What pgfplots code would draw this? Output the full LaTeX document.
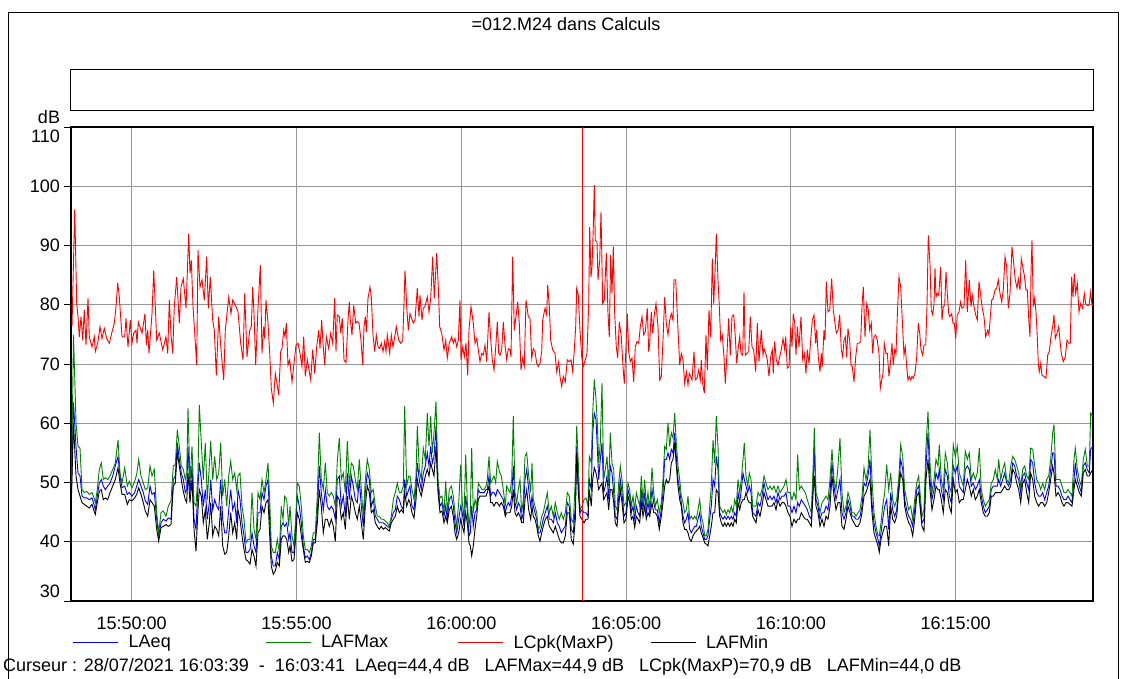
\documentclass[border=0pt]{standalone}
\usepackage{pgfplots}
\pgfplotsset{compat=1.18}
\usepackage{pgfplotstable}
\usepackage{fontspec}
\setmainfont{Liberation Sans}
\definecolor{gridgray}{RGB}{150,150,150}
\definecolor{lgreen}{RGB}{0,128,0}
\pgfplotstableread{
p lc
72.0 76.3
74.7 96.1
76.7 80.2
78.0 78.0
79.3 74.6
81.0 78.0
82.7 74.0
84.3 79.1
86.0 73.2
88.0 81.1
89.3 74.6
92.0 72.9
94.3 74.6
95.3 72.1
97.7 73.5
100.0 76.3
102.0 74.3
104.3 76.0
106.7 74.3
109.3 73.5
112.0 75.4
114.3 76.9
116.0 79.7
117.7 83.7
119.3 81.3
122.0 74.6
124.7 74.6
126.0 77.7
128.0 72.9
130.3 77.4
132.0 73.5
133.7 75.2
136.0 75.7
137.0 73.5
138.3 77.1
142.0 75.2
145.0 78.5
146.3 73.2
147.7 75.7
149.0 71.8
152.0 78.5
153.7 85.8
155.3 79.7
156.7 74.0
159.3 75.2
162.7 72.4
166.0 74.6
167.7 71.8
169.3 80.8
171.0 74.9
172.7 71.8
174.3 79.7
176.7 84.7
179.3 76.9
181.0 83.0
183.3 84.4
186.0 79.4
188.7 92.0
190.0 85.3
191.3 87.5
193.0 79.7
196.7 69.8
198.0 89.2
200.0 83.0
202.0 84.2
204.3 80.8
206.7 88.1
208.3 79.4
210.3 84.7
212.7 77.4
214.3 75.7
216.3 68.1
218.7 78.0
221.0 72.4
223.7 67.3
225.3 75.7
228.7 81.3
231.0 78.5
232.7 80.8
236.0 79.7
238.0 78.8
240.7 73.5
243.0 70.7
244.7 81.9
247.0 71.2
249.7 75.7
251.3 76.3
252.7 83.0
254.0 78.5
255.7 69.8
258.0 79.4
260.3 86.7
262.0 71.8
263.7 76.3
264.7 74.3
266.0 80.8
268.0 76.9
269.7 71.8
271.3 65.9
273.3 63.4
275.3 68.4
277.0 66.7
278.7 64.8
280.7 72.1
282.0 72.6
283.7 75.7
285.0 74.6
286.3 76.9
288.0 69.8
289.7 70.7
292.0 67.0
294.0 70.1
296.0 73.2
298.0 73.5
300.0 71.8
302.0 69.6
303.7 74.6
305.3 67.9
307.3 70.7
309.0 69.0
310.7 67.3
312.7 72.4
314.7 68.4
316.7 72.9
318.7 75.7
320.0 72.6
321.7 77.4
323.0 73.5
324.7 69.8
326.3 74.6
328.7 72.6
330.7 75.2
332.7 73.5
334.7 81.1
336.0 72.1
337.3 78.3
339.3 78.0
340.7 75.2
342.3 77.7
344.0 70.7
346.0 70.2
348.0 77.4
349.3 80.5
350.3 77.4
352.0 74.9
353.7 79.9
355.7 76.9
357.3 77.2
359.0 76.9
361.0 74.0
362.7 69.8
364.0 76.3
365.3 78.0
366.3 75.4
368.0 81.1
370.0 83.0
371.3 81.3
373.0 74.9
374.7 72.1
376.3 74.9
378.0 72.9
379.7 72.6
381.3 73.5
383.0 72.1
384.7 73.8
386.0 72.1
387.3 74.9
389.7 71.8
391.3 74.9
393.0 72.9
394.7 74.6
396.3 76.3
398.7 74.0
400.7 73.5
402.7 74.0
403.7 78.8
405.0 85.8
406.7 79.7
408.3 75.7
409.7 78.0
410.0 78.5
413.3 76.9
415.0 77.4
417.3 82.8
419.0 78.0
420.0 81.6
422.0 77.4
423.3 79.4
425.0 79.7
427.3 81.3
429.0 78.8
430.7 81.1
432.7 88.1
434.3 81.1
436.7 88.7
438.3 83.0
439.7 76.3
441.7 75.2
444.0 72.4
445.7 74.0
447.3 71.0
449.3 73.5
451.7 74.6
453.3 73.5
455.0 74.3
456.7 72.9
458.3 74.0
460.0 80.8
461.0 70.7
462.7 72.9
464.3 71.2
466.0 73.5
467.7 68.1
469.0 75.7
471.0 79.7
473.3 76.9
475.0 73.5
476.7 74.3
478.3 72.4
480.0 70.4
481.7 71.8
483.3 71.5
485.0 73.2
486.7 70.4
489.0 78.8
491.0 73.5
492.3 70.7
494.0 69.0
496.0 73.5
497.3 77.1
498.7 71.8
500.0 71.5
501.7 72.4
503.3 77.1
505.0 73.2
506.7 70.7
508.3 72.6
510.0 72.4
511.0 71.2
512.7 88.1
514.3 75.7
516.0 78.0
517.7 80.5
519.3 76.9
521.0 69.0
522.7 71.0
524.3 69.6
526.0 80.8
528.3 78.0
530.0 77.7
531.7 71.0
533.3 72.6
535.0 72.1
536.7 70.1
538.3 69.6
540.0 70.1
541.7 72.1
542.7 77.4
545.0 79.4
546.7 78.3
547.7 83.3
549.3 79.7
550.7 74.0
552.7 72.4
555.0 71.8
556.7 68.7
558.7 70.4
560.0 67.9
561.7 66.2
563.3 67.9
565.3 67.0
567.3 70.7
569.3 70.4
571.0 70.7
572.7 68.7
574.3 72.4
575.7 76.3
576.7 82.8
578.3 81.6
580.0 75.7
581.7 71.2
583.3 69.6
585.3 70.7
587.0 71.8
588.7 80.2
589.7 93.1
591.0 84.7
592.0 86.4
593.3 93.1
594.3 100.2
595.3 90.9
597.0 90.6
598.0 84.2
599.7 87.5
601.0 95.7
602.7 80.2
604.3 80.8
606.3 88.7
608.0 78.5
609.3 74.6
610.7 88.4
612.0 81.9
613.3 89.8
614.7 78.5
616.3 72.9
617.7 71.0
619.3 77.1
621.3 74.6
623.0 69.6
624.3 66.7
626.0 72.9
627.3 78.5
628.7 72.1
630.3 70.4
632.0 71.0
633.7 67.0
635.3 72.9
637.0 73.8
638.7 73.5
640.3 76.3
642.0 78.0
643.7 74.9
645.3 75.4
647.3 79.4
648.7 72.1
649.7 73.5
651.3 78.8
652.7 75.2
654.3 78.3
656.0 80.2
658.0 76.3
659.7 67.3
661.3 67.9
663.0 74.0
664.7 81.3
666.3 76.9
668.0 74.9
669.7 77.4
671.3 78.5
673.0 77.4
674.0 84.2
675.7 84.2
677.7 76.9
679.7 69.8
681.3 71.8
683.0 70.7
684.7 66.7
686.3 68.7
688.0 66.5
689.3 68.4
690.7 67.9
692.0 67.3
694.0 72.1
695.3 67.3
697.0 67.6
698.7 69.0
700.3 67.3
701.3 70.7
702.7 66.7
704.3 65.1
706.0 74.9
707.3 69.0
709.0 79.1
710.7 74.6
712.3 87.8
713.7 80.2
715.0 85.3
716.3 92.0
718.0 84.2
719.3 79.7
720.7 74.0
722.3 74.9
724.0 71.2
725.3 66.7
727.0 71.8
728.7 77.7
730.3 71.5
732.0 78.0
733.7 78.3
735.3 74.6
736.7 70.1
738.0 72.4
739.7 74.6
741.0 71.8
742.7 71.5
744.0 82.2
745.3 71.5
747.0 71.8
748.7 72.1
750.3 78.0
752.0 72.9
753.7 72.4
755.7 68.7
757.3 76.9
759.0 70.4
761.3 75.7
763.0 71.5
764.0 72.6
765.7 71.8
767.3 70.7
769.0 67.9
770.7 71.2
772.3 72.4
773.3 68.4
774.7 73.8
776.3 70.7
778.0 69.8
779.7 71.2
781.3 72.4
783.0 74.3
784.7 72.4
785.7 74.6
787.3 69.3
789.0 69.6
790.7 76.3
792.0 72.9
793.3 78.5
794.7 76.9
796.0 71.5
797.3 76.3
799.0 72.9
801.0 78.0
802.7 70.7
804.3 71.8
806.0 68.4
807.3 72.4
809.0 70.1
810.7 74.0
812.3 77.4
814.0 78.3
815.7 73.5
816.7 75.7
818.3 71.2
820.0 68.7
821.3 71.8
822.3 69.6
824.0 75.7
825.0 74.0
826.3 83.9
828.0 78.8
829.7 79.1
831.7 84.4
833.3 79.1
835.0 76.9
836.3 75.2
838.0 75.7
839.7 78.3
841.3 72.4
842.7 71.2
844.0 74.0
845.3 74.6
846.7 71.2
848.0 76.0
849.7 74.0
851.0 69.8
852.3 69.6
854.0 67.0
855.7 71.2
857.3 73.5
859.0 73.5
860.7 73.8
862.0 79.7
863.3 83.0
865.0 74.6
866.7 80.2
868.3 79.1
869.7 75.7
871.3 76.9
872.7 71.8
874.0 74.6
875.7 74.9
877.3 74.0
879.0 71.8
880.3 65.9
881.7 67.3
883.0 68.4
884.3 73.5
886.0 71.8
887.3 71.8
889.0 67.9
890.7 70.7
892.0 73.5
893.3 69.8
894.7 72.4
896.0 71.8
897.3 78.0
899.0 84.7
900.7 83.0
902.3 77.4
904.0 71.5
905.3 72.9
906.7 69.6
908.0 67.3
909.3 67.9
910.7 67.3
912.0 67.9
913.3 67.6
915.0 68.4
916.7 71.2
918.3 76.9
919.7 75.2
921.0 72.4
922.7 71.5
924.0 73.2
925.7 73.2
927.0 79.7
928.3 91.7
930.0 86.9
931.3 79.1
932.7 78.3
934.0 80.2
935.0 86.2
936.0 81.3
937.3 81.9
938.7 81.6
940.7 86.4
942.0 77.4
943.3 79.7
944.7 79.9
946.0 85.6
947.3 81.9
948.7 78.5
950.0 78.0
951.7 78.5
953.0 76.9
954.3 76.9
955.7 74.3
957.3 78.3
959.0 78.8
960.7 80.5
962.0 79.4
964.0 79.7
965.7 87.5
967.3 78.8
969.3 84.2
971.0 79.7
972.3 81.6
974.0 79.7
975.7 78.3
977.3 77.4
979.0 83.9
980.7 81.6
982.3 79.4
984.0 78.0
985.7 74.6
987.7 75.7
989.0 74.9
990.3 78.0
991.7 80.8
993.3 81.1
995.0 82.5
996.7 82.8
998.3 84.2
1000.0 81.9
1001.7 80.5
1003.3 82.5
1005.0 88.1
1006.7 86.4
1008.3 79.4
1010.0 81.9
1012.0 89.8
1013.7 87.0
1015.3 84.2
1017.0 82.8
1018.3 84.4
1020.0 82.5
1021.3 87.8
1022.7 86.4
1024.3 85.0
1026.0 82.5
1027.3 82.5
1028.7 77.7
1030.0 74.6
1031.0 85.3
1032.0 90.9
1033.3 79.7
1034.7 81.1
1036.0 78.8
1037.3 74.6
1038.3 70.1
1039.3 68.7
1040.7 70.1
1042.0 68.1
1044.0 67.9
1046.0 67.6
1047.7 71.5
1049.3 72.1
1051.0 74.6
1052.7 76.3
1054.0 78.3
1055.3 74.3
1057.0 75.2
1058.7 76.3
1060.0 74.0
1061.3 71.8
1063.3 70.4
1065.3 71.2
1067.0 74.0
1068.7 73.5
1070.3 73.5
1071.7 84.7
1073.0 81.3
1074.3 85.3
1075.7 81.9
1077.3 83.6
1079.0 78.8
1080.7 80.2
1082.7 79.4
1084.3 81.9
1085.7 80.2
1087.3 79.9
1089.0 79.9
1090.7 82.2
1092.0 79.9
1093.3 80.2
}\redtab
\pgfplotstableread{
p lmax leq lmin
71.5 50.0 49.0 48.0
73.5 74.9 63.5 60.0
76.0 60.1 56.1 51.1
78.0 56.1 51.6 48.8
80.0 55.8 51.1 47.7
82.0 48.8 47.7 46.6
84.3 48.3 47.4 46.3
86.7 48.5 47.4 46.0
89.3 48.0 47.1 45.7
92.0 48.3 47.4 46.3
94.0 47.4 46.3 45.2
95.3 46.6 45.4 44.6
97.3 48.8 47.7 46.6
99.3 52.2 49.9 48.5
101.3 53.3 50.5 48.8
103.3 50.5 49.4 47.1
105.3 50.8 48.8 47.4
107.7 50.5 49.4 47.1
110.0 51.1 49.9 48.3
112.7 52.2 51.1 49.4
115.3 53.3 52.8 50.5
118.0 57.2 54.4 52.5
120.0 51.6 51.1 49.9
122.0 49.9 49.1 48.0
124.7 52.5 49.4 48.0
127.3 49.4 48.0 46.3
129.3 50.2 48.3 47.1
132.0 49.1 47.7 46.9
134.7 50.2 48.3 47.4
136.7 51.4 49.4 48.0
138.7 53.9 50.5 49.1
141.0 51.1 49.4 48.0
143.3 49.9 48.3 46.6
145.3 48.8 46.9 45.2
147.7 49.1 46.3 44.3
150.0 52.8 49.4 47.1
152.0 51.1 48.0 46.6
154.3 52.2 48.3 46.0
156.7 44.9 43.8 42.1
158.7 41.5 41.0 40.1
161.0 44.9 43.2 42.4
163.3 45.2 43.8 42.6
166.0 44.3 43.5 42.9
168.3 46.0 44.0 42.6
171.0 46.9 43.8 42.9
173.3 52.8 50.5 49.4
175.3 53.0 51.1 49.9
177.3 58.9 56.7 55.0
179.3 56.1 53.9 52.8
181.3 52.8 51.6 50.5
183.3 52.2 50.5 48.5
185.3 50.5 48.3 47.1
186.7 51.6 48.8 46.6
188.0 62.6 56.1 51.6
190.0 49.9 48.3 46.6
192.0 56.1 52.8 50.5
194.0 46.6 43.8 42.1
196.0 46.0 42.1 38.4
198.0 51.6 49.4 45.4
199.3 63.1 53.3 48.8
201.3 56.7 50.5 47.7
203.3 50.5 46.0 43.2
205.3 56.7 48.8 45.4
207.3 47.1 43.8 40.4
209.3 52.8 46.6 43.2
210.7 57.0 50.5 46.6
212.7 50.5 45.4 41.0
214.7 54.4 47.1 42.6
216.7 50.5 46.0 42.1
218.7 51.6 45.4 41.0
220.7 56.7 50.5 46.0
222.7 47.7 43.8 39.3
224.7 50.5 41.5 37.9
226.7 46.0 41.5 38.2
228.7 51.1 45.4 41.0
230.7 53.6 48.8 44.9
232.7 50.5 45.4 41.5
234.7 51.6 46.6 43.2
236.7 48.8 43.2 40.4
238.0 51.1 48.8 45.4
240.0 51.6 47.1 43.8
242.0 46.0 43.2 41.0
244.0 43.8 41.0 38.7
246.0 39.8 38.2 37.0
248.0 40.4 38.2 36.7
250.0 40.4 38.7 36.2
252.0 48.3 41.5 38.7
254.0 42.1 39.3 37.6
256.0 40.4 38.2 35.9
258.0 48.3 44.9 41.5
260.0 47.1 44.9 42.1
262.0 50.5 48.3 46.0
264.0 48.3 47.1 44.9
266.0 50.5 49.4 46.6
268.0 53.3 50.5 47.1
269.7 47.1 43.8 41.0
271.3 39.3 37.6 35.9
273.3 38.2 35.9 34.5
275.3 38.2 35.9 35.1
277.3 40.4 38.2 36.5
279.3 38.2 37.0 35.9
281.3 46.0 42.6 40.4
283.0 43.8 43.2 41.0
284.7 47.7 42.6 41.0
286.7 47.1 43.2 40.4
288.7 42.6 40.4 38.2
290.0 46.0 41.5 39.3
292.0 41.0 38.2 36.7
294.0 39.3 38.2 37.0
296.0 44.9 43.8 41.5
297.3 49.9 47.7 44.9
299.3 49.4 46.0 43.8
301.3 46.0 43.2 41.0
303.3 41.0 39.3 38.7
305.3 38.7 37.3 36.5
307.3 38.7 37.6 36.7
309.3 38.2 37.0 36.5
311.3 39.3 38.2 37.6
313.3 41.5 40.4 39.8
315.3 41.5 40.4 39.8
317.3 47.7 44.9 43.2
319.3 58.4 52.8 48.8
321.3 50.5 48.3 46.0
323.3 48.8 45.4 41.5
325.3 53.3 48.8 43.8
327.3 48.3 46.0 43.8
329.3 47.7 45.4 42.6
331.3 48.3 46.0 43.8
333.3 47.7 45.4 42.6
335.3 46.0 43.8 40.1
337.3 53.6 50.5 47.7
339.3 57.5 51.1 47.1
341.3 50.5 46.0 43.8
343.3 51.6 47.7 44.9
345.3 48.3 44.3 42.1
347.3 57.0 51.6 47.7
349.3 49.4 47.1 43.8
351.3 53.3 51.1 47.7
353.3 52.8 49.4 46.6
355.3 50.5 47.1 44.9
357.3 48.8 46.6 43.8
359.3 53.9 50.5 46.0
361.3 48.8 46.0 43.2
363.3 44.3 42.6 40.4
365.3 50.5 48.3 46.0
367.3 53.9 51.6 49.4
369.3 52.2 50.5 48.3
371.3 48.3 46.0 44.9
373.3 48.8 47.1 45.4
375.3 46.0 44.3 43.2
377.3 44.3 43.8 42.6
379.3 44.3 43.2 42.1
381.3 43.8 43.2 42.6
383.3 43.8 43.2 42.1
385.3 43.5 42.9 42.4
387.3 43.2 42.6 42.1
389.3 42.6 42.4 41.8
391.3 44.3 43.8 43.2
393.3 47.1 44.9 43.8
395.3 48.3 45.4 44.3
397.3 49.9 47.7 46.0
399.3 48.3 47.1 44.9
401.3 48.3 46.0 45.4
403.3 49.4 45.4 44.9
404.7 62.9 50.5 48.3
406.7 49.4 47.7 46.0
408.7 51.1 48.8 47.1
410.0 51.1 49.4 46.6
412.0 48.8 46.0 44.9
414.0 47.1 45.4 44.0
416.0 51.1 49.4 47.1
417.3 59.5 53.3 50.5
419.3 52.2 50.5 48.8
421.3 50.5 48.8 47.7
423.3 55.8 51.6 49.4
425.3 53.9 52.8 51.1
427.3 61.7 55.0 52.2
429.0 56.1 52.8 51.1
430.7 61.2 56.1 53.3
432.3 55.0 53.3 52.2
434.0 58.4 54.4 51.1
436.0 63.7 59.5 56.1
438.0 50.5 49.4 48.3
440.0 47.4 46.0 44.9
442.0 47.7 46.6 45.2
444.0 44.9 44.3 43.2
445.7 50.2 46.0 44.3
447.3 44.9 43.8 43.2
449.3 48.8 47.1 45.4
451.3 49.4 47.7 46.0
453.3 47.7 46.0 44.3
455.0 44.9 43.2 41.5
456.7 42.6 41.5 40.4
458.7 46.6 43.8 41.5
460.7 53.0 46.0 43.8
462.3 46.6 44.9 42.6
464.0 43.8 42.6 41.5
465.7 54.7 47.7 44.9
467.3 46.6 45.4 43.2
469.0 42.6 41.0 39.8
470.3 44.9 41.5 39.3
471.7 55.8 46.0 37.6
473.3 44.9 42.6 39.3
475.0 47.1 44.9 42.1
476.7 46.0 45.4 44.3
478.3 49.9 48.8 47.1
480.0 49.4 48.3 47.7
482.0 48.8 48.3 47.7
484.0 48.8 48.3 47.7
486.0 49.4 48.8 47.7
487.3 50.5 48.8 48.3
489.0 54.4 51.1 49.4
490.7 49.9 47.7 46.6
492.3 50.5 48.3 46.6
494.0 51.1 48.3 46.0
495.7 49.9 47.7 46.6
497.3 53.6 48.8 46.6
499.3 51.9 48.3 46.0
501.3 51.1 47.7 46.6
503.3 48.8 47.1 46.0
505.3 46.0 44.9 44.3
506.7 49.4 46.0 44.9
508.3 48.8 46.6 44.9
510.0 48.3 46.0 44.9
511.7 50.5 47.7 46.0
513.3 61.2 52.8 48.8
515.0 48.3 46.6 44.9
516.7 46.6 45.4 44.3
518.3 48.8 46.6 44.9
520.0 50.5 46.0 44.3
521.7 44.9 43.8 43.2
523.3 47.1 44.9 43.2
525.0 54.4 50.5 47.1
526.7 55.0 52.2 48.8
528.7 51.1 48.8 45.4
530.7 48.3 46.0 43.8
532.0 53.3 47.7 46.0
533.3 47.1 46.0 44.3
535.0 46.0 44.9 43.8
536.7 44.9 43.8 42.6
538.3 42.1 41.5 41.0
540.0 42.6 41.5 40.1
541.7 44.3 42.6 41.5
543.3 44.9 43.8 42.6
545.3 46.6 44.9 43.8
547.3 48.3 46.0 44.3
549.3 44.9 43.8 42.6
551.3 46.0 43.8 42.1
553.3 44.3 43.2 41.5
555.3 46.6 44.9 42.6
557.3 44.9 43.2 41.5
559.3 43.8 42.6 40.4
561.3 44.9 41.5 39.8
563.3 43.8 42.1 39.8
565.3 44.9 42.6 41.0
567.3 48.3 46.6 44.9
569.3 47.7 46.0 44.9
571.3 43.8 42.1 40.4
573.3 43.2 41.5 39.6
575.3 50.5 46.0 43.8
576.7 59.5 56.1 55.0
578.3 53.3 49.9 48.3
580.0 45.4 44.9 44.3
582.0 46.0 45.4 43.8
584.0 47.1 44.9 43.2
586.0 47.4 44.9 43.8
588.0 46.0 44.3 43.8
589.3 54.4 50.5 48.8
591.3 53.3 48.8 46.0
592.7 61.7 58.4 50.5
594.3 67.4 61.7 52.5
596.0 64.0 60.6 51.6
597.3 60.1 56.1 50.5
598.7 53.3 50.5 48.8
600.3 56.7 53.9 49.4
602.0 66.8 56.7 49.9
603.7 50.5 48.3 47.1
605.3 52.2 49.4 47.7
607.0 54.4 51.1 48.3
608.7 49.4 47.1 45.4
610.3 58.4 52.8 48.8
612.0 53.3 51.6 48.8
613.7 52.2 48.3 46.6
615.3 46.0 44.3 43.2
617.0 45.4 43.8 42.6
618.7 49.9 47.7 46.0
620.3 52.8 50.5 48.8
622.0 50.5 48.3 46.6
624.0 46.0 44.3 43.2
626.0 46.6 44.9 43.8
628.0 49.9 48.8 47.7
629.7 48.8 47.7 46.6
631.3 46.0 44.9 43.8
633.0 47.7 46.0 44.3
634.7 45.4 43.8 42.4
636.3 48.3 46.0 44.3
638.0 47.1 44.9 43.8
639.7 46.0 44.3 43.2
641.3 51.1 48.8 46.6
643.0 46.6 45.4 44.3
644.7 50.5 48.3 46.0
646.3 46.0 44.9 43.8
648.0 48.3 46.6 44.9
649.7 45.4 44.9 44.3
652.0 52.5 48.8 46.6
653.7 48.3 46.6 44.9
655.3 46.0 45.4 44.9
657.3 47.1 45.4 44.3
659.3 44.9 43.2 42.1
661.3 46.6 45.4 44.3
663.0 50.5 48.3 46.6
664.7 56.1 53.9 49.4
666.3 55.6 53.9 50.5
668.0 60.1 55.0 49.9
669.7 56.1 53.9 50.5
671.3 58.4 55.6 53.3
673.0 57.5 55.0 53.9
674.7 61.7 58.4 56.7
676.3 56.7 54.4 52.8
678.0 52.8 50.5 49.4
679.7 50.5 48.8 47.1
681.3 47.7 46.6 46.0
683.0 46.6 44.3 43.2
684.7 44.9 43.2 42.1
686.3 45.4 43.8 42.1
688.0 47.7 44.9 41.5
689.7 43.8 42.1 40.4
691.3 44.3 41.5 40.1
693.0 43.8 42.1 41.0
694.7 44.3 42.6 41.5
696.3 43.8 42.6 41.8
698.0 45.4 43.8 42.1
699.7 47.1 44.9 42.6
701.3 44.3 42.6 41.5
703.0 43.2 41.5 40.7
704.7 41.0 40.4 39.8
706.3 41.0 40.4 39.6
708.0 42.1 41.0 39.3
709.7 46.0 43.8 41.0
711.3 49.4 46.0 42.6
713.0 57.2 50.5 44.9
714.7 53.3 49.4 44.9
716.3 61.2 54.4 48.8
718.0 56.1 52.2 48.3
719.7 46.0 44.9 44.3
721.3 45.4 44.3 43.2
723.0 44.9 43.8 42.6
724.7 45.4 44.3 43.2
726.3 44.6 43.8 42.6
728.0 45.4 44.3 43.2
729.7 44.9 43.8 42.6
731.3 46.0 44.3 43.2
733.0 44.9 43.8 42.6
734.7 47.1 44.9 43.8
736.3 46.0 44.3 43.2
738.0 50.5 48.3 46.6
739.7 48.3 46.6 45.4
741.3 50.5 48.8 46.6
743.0 53.9 51.6 47.1
744.3 56.7 50.5 47.1
746.0 51.1 49.4 48.3
747.7 49.4 48.3 47.1
749.3 51.6 49.4 46.6
751.0 50.5 48.3 46.6
752.7 46.0 44.9 44.3
756.0 46.0 44.3 43.2
758.0 48.3 46.6 45.4
760.0 47.7 46.0 44.3
762.0 48.8 47.7 46.0
764.0 51.1 49.9 48.3
766.0 49.9 48.3 47.1
768.0 48.8 47.1 46.0
770.0 49.4 47.7 46.0
772.0 48.8 47.1 46.0
774.0 49.4 47.7 46.6
776.0 48.3 46.6 45.4
778.0 49.4 48.3 47.1
780.0 48.3 47.1 46.0
782.0 48.8 47.7 46.6
784.0 49.4 47.7 46.6
786.0 50.5 48.3 46.0
788.0 48.3 46.0 44.9
790.0 48.3 46.0 44.3
792.0 47.1 44.9 42.6
794.0 48.3 46.0 43.8
796.0 47.1 44.9 43.2
797.7 54.7 46.6 43.8
799.3 48.8 46.0 43.8
801.3 49.4 47.1 44.9
803.3 48.8 46.6 44.3
805.3 48.3 46.0 43.8
807.3 47.1 45.4 43.8
809.3 46.0 44.3 43.2
811.3 44.9 43.8 42.6
813.3 53.3 50.5 48.8
814.3 59.2 56.1 51.1
816.0 48.3 47.1 46.0
818.0 47.1 46.0 44.9
820.0 44.9 43.8 42.6
822.0 46.6 44.9 43.8
824.0 47.1 44.9 42.6
826.0 47.7 46.0 44.3
828.0 47.1 45.4 43.8
830.0 50.5 48.3 46.0
832.0 55.6 53.3 51.1
834.0 50.5 49.4 47.7
836.0 48.8 47.1 45.4
838.0 52.8 48.8 46.6
840.0 57.5 50.5 46.6
842.0 48.3 44.9 42.6
844.0 44.9 43.8 42.1
846.0 46.0 44.9 43.8
848.0 48.3 47.1 46.0
850.0 47.1 46.0 44.9
852.0 44.9 44.3 43.8
854.0 44.9 44.3 43.2
856.0 44.3 43.8 42.6
858.0 44.9 43.8 42.6
860.0 45.4 44.3 43.2
862.0 47.7 46.0 44.9
864.0 52.5 49.9 47.7
866.0 50.5 49.4 48.3
868.0 52.2 51.1 49.4
870.0 58.9 53.9 50.5
872.0 50.5 46.6 44.9
874.0 44.9 43.2 41.5
876.0 42.6 41.5 40.4
878.0 41.0 40.4 39.3
879.3 41.0 39.3 38.2
881.0 43.2 41.5 40.4
882.7 46.0 43.8 41.5
884.7 48.3 46.0 42.6
886.7 53.0 47.1 42.6
888.7 48.8 42.1 39.3
890.7 51.6 48.3 46.0
892.7 47.1 45.4 43.8
894.7 46.0 44.3 43.2
896.7 47.1 45.4 44.3
898.7 50.5 49.4 48.3
900.7 56.4 53.9 51.6
902.7 54.4 52.2 50.5
904.7 48.8 47.1 46.0
906.7 47.1 45.4 44.3
908.7 45.4 44.3 43.2
910.7 46.0 43.8 42.6
912.7 43.8 42.6 41.0
914.7 47.1 45.4 43.8
916.7 49.9 48.8 47.7
918.7 51.1 49.4 48.3
922.0 44.3 43.2 42.6
924.0 45.4 43.8 41.8
926.0 56.1 52.8 50.5
928.0 62.0 58.4 53.9
930.0 53.3 50.5 48.8
932.0 48.3 47.1 45.4
934.0 50.5 48.8 47.1
936.0 53.9 51.6 49.4
938.0 52.8 50.5 48.8
939.3 56.4 52.2 48.8
941.3 50.5 48.8 47.1
943.3 48.8 47.1 44.9
945.3 55.0 52.2 48.8
947.3 53.3 51.1 48.3
949.3 49.4 47.7 46.0
951.3 48.3 46.6 44.9
953.3 56.4 52.8 50.5
955.3 54.4 51.6 48.3
957.3 56.1 52.8 48.8
959.3 51.6 49.4 46.6
961.3 50.5 48.8 47.1
963.3 49.4 48.3 47.1
965.3 55.3 52.2 48.8
967.3 53.9 52.8 50.5
969.3 55.0 52.2 49.4
971.3 50.5 49.4 47.7
973.3 51.6 49.9 48.8
975.3 50.5 48.8 47.1
977.3 51.6 49.4 47.7
979.3 55.8 50.5 48.8
981.3 48.8 47.7 46.6
983.3 47.1 46.0 44.9
985.3 46.0 44.9 44.3
987.3 46.6 45.4 44.3
989.3 47.1 46.0 44.9
991.3 49.9 48.8 47.7
993.3 50.5 49.4 47.7
995.3 52.2 49.4 48.3
997.3 50.5 49.4 48.3
998.7 53.9 50.5 48.3
1000.7 50.5 49.4 48.3
1002.7 52.2 50.5 48.8
1004.7 53.3 51.6 49.4
1006.7 50.5 49.9 48.8
1008.7 49.9 49.4 48.8
1010.7 52.8 50.5 49.4
1012.7 54.4 53.3 52.2
1014.7 53.9 52.8 51.6
1016.7 52.8 51.1 49.9
1018.7 51.6 50.5 48.8
1020.7 49.4 48.3 46.6
1022.7 52.2 51.1 49.9
1024.7 52.8 51.6 50.5
1026.7 51.1 49.9 48.3
1028.7 50.5 48.8 46.6
1030.7 55.8 53.9 51.6
1032.7 55.6 53.3 50.5
1034.7 52.8 49.9 47.7
1036.7 50.5 48.3 46.6
1038.7 49.9 47.7 46.0
1040.7 48.8 47.7 46.6
1042.7 49.9 48.3 46.6
1044.7 48.8 47.1 46.0
1046.7 50.5 48.3 46.6
1048.7 51.1 49.4 48.3
1050.7 53.9 52.2 50.5
1052.7 58.4 55.0 52.8
1054.0 59.8 55.0 51.6
1056.0 50.5 49.4 47.7
1058.0 50.5 49.4 48.3
1060.0 50.5 48.8 47.7
1062.0 49.4 47.7 46.6
1064.0 48.3 47.1 46.0
1066.0 48.3 47.1 46.6
1068.0 48.8 47.7 46.6
1070.0 48.3 47.1 46.3
1072.0 47.7 46.6 46.0
1074.0 53.9 50.5 48.8
1075.3 55.8 53.3 50.5
1077.3 52.2 50.5 49.4
1079.3 50.5 49.4 48.3
1081.3 49.4 48.3 47.7
1083.3 53.9 52.8 51.6
1085.3 55.6 53.3 52.2
1087.3 52.8 52.2 51.1
1089.3 52.8 51.6 51.1
1090.7 61.7 55.6 51.6
1092.7 61.2 56.1 52.2
}\lowtab
\begin{document}
\fontsize{18bp}{21bp}\selectfont
\begin{tikzpicture}
\path[use as bounding box] (0bp,0bp) rectangle (1123bp,-679bp);
\draw[black, line width=0.8bp] (8bp,-680bp) -- (8bp,-12bp) -- (1118bp,-12bp) -- (1118bp,-680bp);
\node at (566bp,-24bp) {=012.M24 dans Calculs};
\draw[black, line width=1bp] (70bp,-69bp) rectangle (1093bp,-110bp);
\node at (49bp,-117bp) {dB};
\begin{axis}[
  at={(71bp,-127bp)}, anchor=north west,
  scale only axis, width=1022bp, height=474bp,
  xmin=-1.842, xmax=29.166, ymin=30, ymax=110,
  xtick={0,5,10,15,20,25},
  xticklabels={15:50:00,15:55:00,16:00:00,16:05:00,16:10:00,16:15:00},
  ytick={30,40,50,60,70,80,90,100,110},
  yticklabels={\raisebox{10bp}[\height][\depth]{30},40,50,60,70,80,90,100,\raisebox{-9bp}[\height][\depth]{110}},
  grid=major, major grid style={gridgray, line width=0.9bp},
  axis line style={black, line width=1.2bp},
  tick align=outside, major tick length=7bp,
  ytick pos=left,
  ytick style={black, line width=0.9bp},
  xtick style={draw=none},
  yticklabel style={anchor=east, inner sep=0pt, xshift=-4bp},
  xticklabel style={anchor=north, inner sep=0pt, yshift=-9bp},
  legend columns=4,
  legend style={at={(0.0015,-0.0886)}, anchor=west, draw=none, fill=none,
    inner sep=0pt, row sep=0pt, nodes={inner sep=0pt},
    /tikz/every odd column/.append style={column sep=10bp}},
  legend cell align=left,
  legend image code/.code={\draw[#1, line width=1bp] (0bp,0bp) -- (45bp,0bp);},
  every axis plot/.append style={line width=0.9bp},
]
\addplot[blue] table[x expr=(\thisrow{p}-131.7)/32.96, y=leq] {\lowtab};
\addlegendentry{\makebox[136.5bp][l]{LAeq}}
\addplot[lgreen] table[x expr=(\thisrow{p}-131.7)/32.96, y=lmax] {\lowtab};
\addlegendentry{\makebox[136.5bp][l]{LAFMax}}
\addplot[red] table[x expr=(\thisrow{p}-131.7)/32.96, y=lc] {\redtab};
\addlegendentry{\makebox[136.5bp][l]{LCpk(MaxP)}}
\addplot[black] table[x expr=(\thisrow{p}-131.7)/32.96, y=lmin] {\lowtab};
\addlegendentry{\makebox[136.5bp][l]{LAFMin}}
\addplot[red, line width=0.8bp, forget plot] coordinates {(13.67,30) (13.67,110)};
\end{axis}
\node[anchor=west, inner sep=0pt] at (3bp,-667bp) {Curseur : 28/07/2021 16:03:39~~-~~16:03:41~~LAeq=44,4 dB~~~LAFMax=44,9 dB~~~LCpk(MaxP)=70,9 dB~~~LAFMin=44,0 dB};
\end{tikzpicture}
\end{document}
